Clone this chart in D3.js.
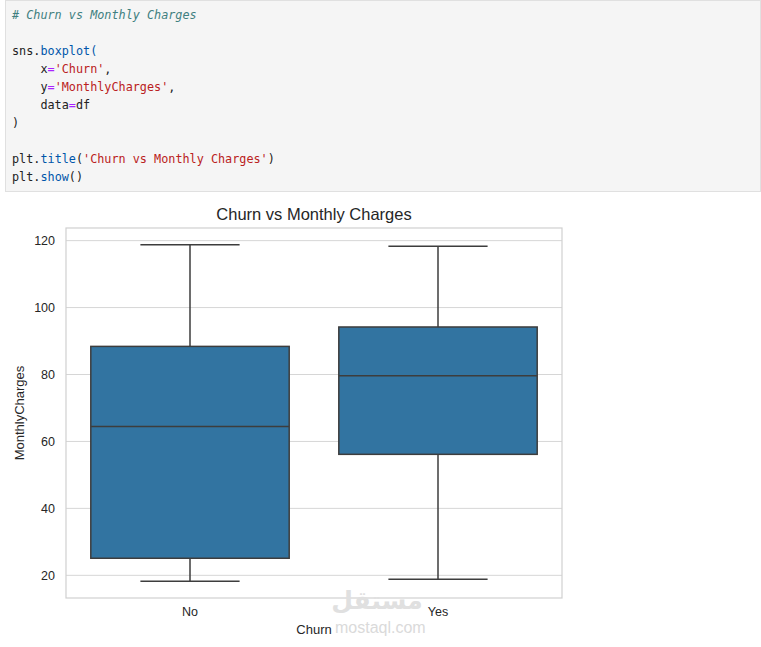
<!DOCTYPE html>
<html>
<head>
<meta charset="utf-8">
<script src="https://cdn.jsdelivr.net/npm/d3@7"></script>
<style>
  body { margin: 0; background: #fff; }
  svg { display: block; }
  .code { font-family: "DejaVu Sans Mono", "Liberation Mono", monospace; font-size: 11.8px; }
  .mpl { font-family: "Liberation Sans", Arial, sans-serif; fill: #262626; }
</style>
</head>
<body>
<svg id="chart" width="761" height="647"></svg>
<script>
// box statistics (Telco churn, MonthlyCharges)
const categories = ['No', 'Yes'];
const whiskerLow = [18.25, 18.85];
const q1 = [25.1, 56.15];
const median = [64.43, 79.65];
const q3 = [88.4, 94.2];
const whiskerHigh = [118.75, 118.35];
const yTicks = [20, 40, 60, 80, 100, 120];

// notebook cell above the figure
const indent = '\u00a0\u00a0\u00a0\u00a0';
const codeLines = [
  [['# Churn vs Monthly Charges', 'comment']],
  [],
  [['sns', 'name'], ['.', 'name'], ['boxplot', 'prop'], ['(', 'prop']],
  [[indent + 'x', 'name'], ['=', 'op'], ["'Churn'", 'str'], [',', 'name']],
  [[indent + 'y', 'name'], ['=', 'op'], ["'MonthlyCharges'", 'str'], [',', 'name']],
  [[indent + 'data', 'name'], ['=', 'op'], ['df', 'name']],
  [[')', 'name']],
  [],
  [['plt', 'name'], ['.', 'name'], ['title', 'prop'], ['(', 'name'], ["'Churn\u00a0vs\u00a0Monthly\u00a0Charges'", 'str'], [')', 'name']],
  [['plt', 'name'], ['.', 'name'], ['show', 'prop'], ['()', 'name']]
];
const tokenColor = { comment: '#408080', name: '#222', prop: '#0055aa', str: '#ba2121', op: '#aa22ff' };

const svg = d3.select('#chart');

svg.append('rect')
  .attr('x', 5.5).attr('y', 0.5)
  .attr('width', 755).attr('height', 191)
  .attr('fill', '#f5f5f5')
  .attr('stroke', '#e0e0e0');

const code = svg.append('g').attr('class', 'code');
code.selectAll('text')
  .data(codeLines)
  .join('text')
  .attr('x', 12)
  .attr('y', (d, i) => 19 + i * 18)
  .selectAll('tspan')
  .data(d => d)
  .join('tspan')
  .attr('fill', d => tokenColor[d[1]])
  .attr('font-style', d => d[1] === 'comment' ? 'italic' : null)
  .text(d => d[0]);

// the figure
const plotLeft = 66, plotRight = 562, plotTop = 228, plotBottom = 598;

const x = d3.scaleBand().domain(categories).range([plotLeft, plotRight]);
const y = d3.scaleLinear()
  .domain([13.225, 123.775])
  .range([plotBottom, plotTop]);

const boxW = x.bandwidth() * 0.8;
const capW = boxW / 2;

// grid
svg.append('g')
  .selectAll('line')
  .data(yTicks)
  .join('line')
  .attr('x1', plotLeft).attr('x2', plotRight)
  .attr('y1', d => y(d)).attr('y2', d => y(d))
  .attr('stroke', '#d6d6d6')
  .attr('stroke-width', 1);

// frame
svg.append('rect')
  .attr('x', plotLeft).attr('y', plotTop)
  .attr('width', plotRight - plotLeft).attr('height', plotBottom - plotTop)
  .attr('fill', 'none')
  .attr('stroke', '#d0d0d0')
  .attr('stroke-width', 1.2);

// y axis labels
const yAxis = svg.append('g')
  .attr('transform', `translate(${plotLeft},0)`)
  .call(d3.axisLeft(y).tickValues(yTicks).tickSize(0).tickPadding(11));
yAxis.select('.domain').remove();
yAxis.selectAll('text')
  .attr('font-family', '"Liberation Sans", Arial, sans-serif')
  .attr('font-size', 12.5)
  .attr('fill', '#262626');

// x axis labels
const xAxis = svg.append('g')
  .attr('transform', `translate(0,${plotBottom})`)
  .call(d3.axisBottom(x).tickSize(0).tickPadding(9));
xAxis.select('.domain').remove();
xAxis.selectAll('text')
  .attr('font-family', '"Liberation Sans", Arial, sans-serif')
  .attr('font-size', 12.5)
  .attr('fill', '#262626');

// boxes
const stroke = '#3d3d3d';
const boxes = svg.append('g')
  .selectAll('g')
  .data(categories)
  .join('g');

boxes.append('line')
  .attr('x1', d => x(d) + x.bandwidth() / 2)
  .attr('x2', d => x(d) + x.bandwidth() / 2)
  .attr('y1', (d, i) => y(whiskerHigh[i]))
  .attr('y2', (d, i) => y(q3[i]))
  .attr('stroke', stroke).attr('stroke-width', 1.5);

boxes.append('line')
  .attr('x1', d => x(d) + x.bandwidth() / 2)
  .attr('x2', d => x(d) + x.bandwidth() / 2)
  .attr('y1', (d, i) => y(q1[i]))
  .attr('y2', (d, i) => y(whiskerLow[i]))
  .attr('stroke', stroke).attr('stroke-width', 1.5);

[whiskerHigh, whiskerLow].forEach(vals => {
  boxes.append('line')
    .attr('x1', d => x(d) + x.bandwidth() / 2 - capW / 2)
    .attr('x2', d => x(d) + x.bandwidth() / 2 + capW / 2)
    .attr('y1', (d, i) => y(vals[i]))
    .attr('y2', (d, i) => y(vals[i]))
    .attr('stroke', stroke).attr('stroke-width', 1.5);
});

boxes.append('rect')
  .attr('x', d => x(d) + (x.bandwidth() - boxW) / 2)
  .attr('y', (d, i) => y(q3[i]))
  .attr('width', boxW)
  .attr('height', (d, i) => y(q1[i]) - y(q3[i]))
  .attr('fill', '#3274a1')
  .attr('stroke', stroke).attr('stroke-width', 1.5);

boxes.append('line')
  .attr('x1', d => x(d) + (x.bandwidth() - boxW) / 2)
  .attr('x2', d => x(d) + (x.bandwidth() + boxW) / 2)
  .attr('y1', (d, i) => y(median[i]))
  .attr('y2', (d, i) => y(median[i]))
  .attr('stroke', stroke).attr('stroke-width', 1.5);

// titles
svg.append('text')
  .attr('class', 'mpl')
  .attr('x', (plotLeft + plotRight) / 2).attr('y', 220)
  .attr('text-anchor', 'middle')
  .attr('font-size', 16.5)
  .text('Churn vs Monthly Charges');

svg.append('text')
  .attr('class', 'mpl')
  .attr('x', (plotLeft + plotRight) / 2).attr('y', 634)
  .attr('text-anchor', 'middle')
  .attr('font-size', 13)
  .text('Churn');

svg.append('text')
  .attr('class', 'mpl')
  .attr('transform', `translate(24,${(plotTop + plotBottom) / 2}) rotate(-90)`)
  .attr('text-anchor', 'middle')
  .attr('font-size', 13)
  .text('MonthlyCharges');

// watermark
svg.append('text')
  .attr('x', 377).attr('y', 609)
  .attr('text-anchor', 'middle')
  .attr('font-family', '"DejaVu Sans", sans-serif')
  .attr('font-weight', 'bold')
  .attr('font-size', 25)
  .attr('fill', '#e0e0e0')
  .text('مستقل');

svg.append('text')
  .attr('x', 335).attr('y', 633)
  .attr('font-family', '"Liberation Sans", Arial, sans-serif')
  .attr('font-size', 16)
  .attr('fill', '#dadada')
  .text('mostaql.com');
</script>
</body>
</html>
